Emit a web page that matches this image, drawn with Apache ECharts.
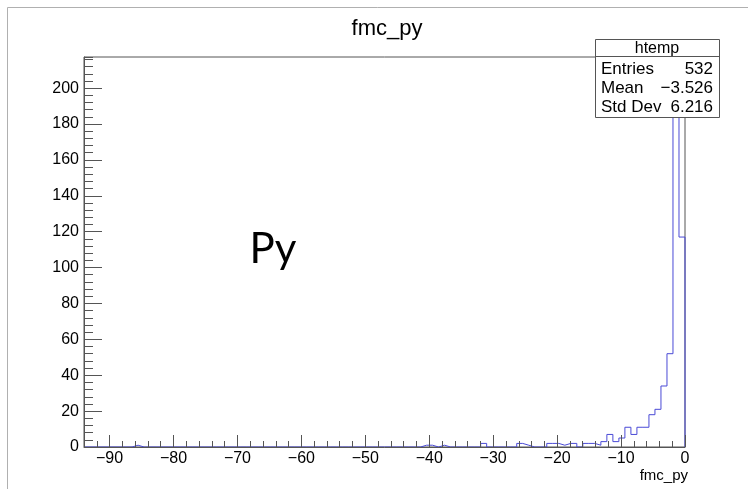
<!DOCTYPE html>
<html>
<head>
<meta charset="utf-8">
<script src="https://cdn.jsdelivr.net/npm/echarts@6/dist/echarts.min.js"></script>
<style>
  html, body { margin: 0; padding: 0; background: #fff; }
  #chart { width: 748px; height: 489px; }
</style>
</head>
<body>
<div id="chart"></div>
<script>
// Histogram of fmc_py: 100 bins from X_MIN to X_MAX
const X_MIN = -94;
const X_MAX = 0;
const Y_MAX = 217.35;
const binCounts = [
  0, 0, 0, 0, 0, 0, 0, 0, 1, 0,
  0, 0, 0, 0, 0, 0, 0, 0, 0, 0,
  0, 0, 0, 0, 0, 0, 0, 0, 0, 0,
  0, 0, 0, 0, 0, 0, 0, 0, 0, 0,
  0, 0, 0, 0, 0, 0, 0, 0, 0, 0,
  0, 0, 0, 0, 0, 0, 1, 1, 0, 1,
  0, 0, 0, 0, 0, 0, 2, 0, 0, 0,
  0, 0, 2, 1, 0, 0, 0, 2, 2, 1,
  2, 2, 0, 2, 2, 1, 3, 7, 3, 5,
  11, 7, 11, 11, 18, 21, 34, 52, 207, 117
];

// Tick positions and labels
const xMajorTicks = [-90, -80, -70, -60, -50, -40, -30, -20, -10, 0];
const xMinorTicks = [-92, -88, -86, -84, -82, -78, -76, -74, -72, -68, -66, -64, -62,
  -58, -56, -54, -52, -48, -46, -44, -42, -38, -36, -34, -32, -28, -26, -24, -22,
  -18, -16, -14, -12, -8, -6, -4, -2];
const yMajorStep = 20;
const yMinorStep = 4;
const yLabelMax = 200;

// Stats box
const statsTitle = 'htemp';
const statsRows = [['Entries', '532'], ['Mean', '\u22123.526'], ['Std Dev', '6.216']];

// Build the stepped outline of the histogram from the bin counts
const binWidth = (X_MAX - X_MIN) / binCounts.length;
const outline = [[X_MIN, 0]];
binCounts.forEach((c, i) => {
  const lo = X_MIN + i * binWidth;
  outline.push([lo, c], [lo + binWidth, c]);
});
outline.push([X_MAX, 0]);

const FONT = '"Liberation Sans", Arial, Helvetica, sans-serif';
const AXIS_COLOR = '#555';
const fmt = v => (v < 0 ? '\u2212' + Math.abs(v) : String(v));
const yFmt = v => (v <= yLabelMax && Math.abs(v / yMajorStep - Math.round(v / yMajorStep)) < 1e-6 ? String(v) : '');

const chart = echarts.init(document.getElementById('chart'), null, { renderer: 'canvas' });

const statsLeft = 595, statsRight = 719, statsTop = 39, statsHead = 56, statsBottom = 117;

const graphic = [
  // pad border
  { type: 'line', shape: { x1: 7.5, y1: 7.5, x2: 748, y2: 7.5 }, style: { stroke: '#b0b0b0', lineWidth: 1 }, z: 10 },
  { type: 'line', shape: { x1: 7.5, y1: 7.5, x2: 7.5, y2: 489 }, style: { stroke: '#b0b0b0', lineWidth: 1 }, z: 10 },
  // stats box
  { type: 'rect', shape: { x: statsLeft + 0.5, y: statsTop + 0.5, width: statsRight - statsLeft, height: statsBottom - statsTop },
    style: { fill: '#fff', stroke: AXIS_COLOR, lineWidth: 1 }, z: 20 },
  { type: 'line', shape: { x1: statsLeft, y1: statsHead + 0.5, x2: statsRight, y2: statsHead + 0.5 },
    style: { stroke: AXIS_COLOR, lineWidth: 1 }, z: 21 },
  { type: 'text', x: (statsLeft + statsRight) / 2, y: (statsTop + statsHead) / 2 + 1, z: 22,
    style: { text: statsTitle, font: '16px ' + FONT, fill: '#000', textAlign: 'center', textVerticalAlign: 'middle' } },
  // overlay label
  { type: 'text', x: 273, y: 249, z: 22,
    style: { text: 'Py', font: '42px Lato, "Open Sans", sans-serif', fill: '#000', textAlign: 'center', textVerticalAlign: 'middle' } },
  // axis title
  { type: 'text', x: 688, y: 476, z: 22,
    style: { text: 'fmc_py', font: '15px ' + FONT, fill: '#000', textAlign: 'right', textVerticalAlign: 'middle' } }
];
statsRows.forEach((r, k) => {
  const y = 69.5 + k * 19;
  graphic.push(
    { type: 'text', x: statsLeft + 6, y, z: 22, style: { text: r[0], font: '17px ' + FONT, fill: '#000', textAlign: 'left', textVerticalAlign: 'middle' } },
    { type: 'text', x: statsRight - 6, y, z: 22, style: { text: r[1], font: '17px ' + FONT, fill: '#000', textAlign: 'right', textVerticalAlign: 'middle' } }
  );
});

const gridRect = { left: 84, right: 63, top: 57, bottom: 42 };

const baseX = { type: 'value', min: X_MIN, max: X_MAX, position: 'bottom', z: 3, splitLine: { show: false } };
const baseY = { type: 'value', min: 0, max: Y_MAX, position: 'left', z: 3, splitLine: { show: false } };

chart.setOption({
  animation: false,
  backgroundColor: '#fff',
  title: {
    text: 'fmc_py', left: 382, top: 13, textAlign: 'center',
    textStyle: { fontFamily: FONT, fontSize: 22, fontWeight: 'normal', color: '#000' }
  },
  grid: [
    Object.assign({ show: true, borderColor: AXIS_COLOR, borderWidth: 1, backgroundColor: 'transparent', z: 0 }, gridRect),
    Object.assign({ show: false }, gridRect)
  ],
  xAxis: [
    Object.assign({}, baseX, {
      gridIndex: 0,
      axisLine: { show: true, onZero: false, lineStyle: { color: AXIS_COLOR, width: 1 } },
      axisTick: { show: true, inside: true, length: 12, customValues: xMajorTicks, lineStyle: { color: AXIS_COLOR } },
      axisLabel: { show: true, customValues: xMajorTicks, formatter: fmt, fontFamily: FONT, fontSize: 16, color: '#000', margin: 4 }
    }),
    Object.assign({}, baseX, {
      gridIndex: 1,
      axisLine: { show: false, onZero: false },
      axisTick: { show: true, inside: true, length: 6, customValues: xMinorTicks, lineStyle: { color: AXIS_COLOR } },
      axisLabel: { show: false }
    })
  ],
  yAxis: [
    Object.assign({}, baseY, {
      gridIndex: 0,
      interval: yMajorStep,
      axisLine: { show: true, onZero: false, lineStyle: { color: AXIS_COLOR, width: 1 } },
      axisTick: { show: true, inside: true, length: 18, lineStyle: { color: AXIS_COLOR } },
      axisLabel: { show: true, showMaxLabel: false, formatter: yFmt, fontFamily: FONT, fontSize: 16, color: '#000', margin: 5 }
    }),
    Object.assign({}, baseY, {
      gridIndex: 1,
      interval: yMinorStep,
      axisLine: { show: false, onZero: false },
      axisTick: { show: true, inside: true, length: 9, lineStyle: { color: AXIS_COLOR } },
      axisLabel: { show: false }
    })
  ],
  series: [{
    type: 'line',
    xAxisIndex: 0, yAxisIndex: 0,
    data: outline,
    symbol: 'none',
    z: 1,
    lineStyle: { color: '#4a4ad6', width: 1 },
    clip: true
  }],
  graphic
});
</script>
</body>
</html>
